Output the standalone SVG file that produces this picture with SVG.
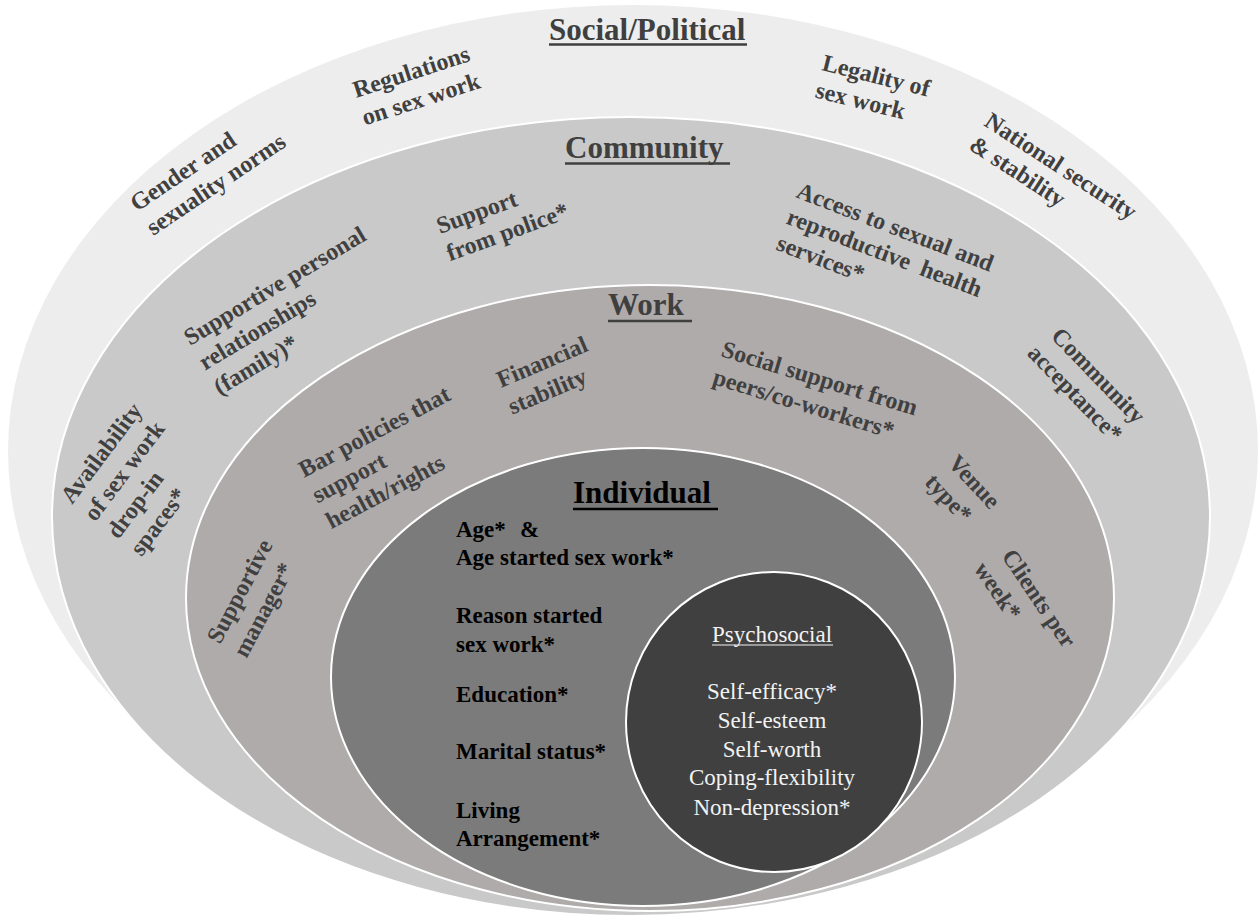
<svg xmlns="http://www.w3.org/2000/svg" width="1260" height="918" viewBox="0 0 1260 918">
  <style>
    .ring { stroke: #ffffff; stroke-width: 2; }
    .lbl { font-family: "Liberation Serif", "Times New Roman", serif; font-weight: bold; font-size: 24px; fill: #404040; }
    .title { font-family: "Liberation Serif", "Times New Roman", serif; font-weight: bold; font-size: 31px; fill: #3f3f3f; }
    .ind { font-family: "Liberation Serif", "Times New Roman", serif; font-weight: bold; font-size: 23px; fill: #000000; }
    .psy { font-family: "Liberation Serif", "Times New Roman", serif; font-size: 23px; fill: #f2f2f2; text-anchor: middle; }
  </style>
  <rect width="1260" height="918" fill="#ffffff"/>

  <!-- Social/Political level -->
  <g id="social-political">
    <ellipse cx="633" cy="451" rx="625" ry="446" fill="#ededed"/>
    <text class="title" x="549" y="40">Social/Political</text>
    <line x1="549" y1="44.5" x2="747" y2="44.5" stroke="#3f3f3f" stroke-width="2.5"/>
    <text class="lbl" transform="translate(137 212) rotate(-34)"><tspan x="0" dy="0">Gender and</tspan><tspan x="0" dy="29">sexuality norms</tspan></text>
    <text class="lbl" transform="translate(356 98) rotate(-18)"><tspan x="0" dy="0">Regulations</tspan><tspan x="0" dy="29">on sex work</tspan></text>
    <text class="lbl" transform="translate(821 70) rotate(14)"><tspan x="0" dy="0">Legality of</tspan><tspan x="0" dy="28">sex work</tspan></text>
    <text class="lbl" transform="translate(983 125) rotate(33)"><tspan x="0" dy="0">National security</tspan><tspan x="0" dy="28">&amp; stability</tspan></text>
  </g>

  <!-- Community level -->
  <g id="community">
    <ellipse class="ring" cx="631" cy="516.5" rx="579" ry="399.5" fill="#c9c9c9"/>
    <text class="title" x="565" y="158">Community</text>
    <line x1="565" y1="163.5" x2="730" y2="163.5" stroke="#3f3f3f" stroke-width="2.5"/>
    <text class="lbl" transform="translate(440 234) rotate(-20)"><tspan x="0" dy="0">Support</tspan><tspan x="0" dy="29">from police*</tspan></text>
    <text class="lbl" transform="translate(795 197) rotate(21)"><tspan x="0" dy="0">Access to sexual and</tspan><tspan x="0" dy="28" word-spacing="6">reproductive health</tspan><tspan x="0" dy="28">services*</tspan></text>
    <text class="lbl" transform="translate(190 346) rotate(-31)"><tspan x="0" dy="0">Supportive personal</tspan><tspan x="0" dy="29">relationships</tspan><tspan x="0" dy="29">(family)*</tspan></text>
    <text class="lbl" transform="translate(72 505) rotate(-53)"><tspan x="0" dy="0">Availability</tspan><tspan x="0" dy="29">of sex work</tspan><tspan x="0" dy="29">drop-in</tspan><tspan x="0" dy="29">spaces*</tspan></text>
    <text class="lbl" transform="translate(1050 337) rotate(46)"><tspan x="0" dy="0">Community</tspan><tspan x="-4" dy="29">acceptance*</tspan></text>
  </g>

  <!-- Work level -->
  <g id="work">
    <ellipse class="ring" cx="650" cy="598" rx="464" ry="313" fill="#afabab"/>
    <text class="title" x="608" y="315">Work</text>
    <line x1="608" y1="321" x2="692" y2="321" stroke="#3f3f3f" stroke-width="2.5"/>
    <text class="lbl" transform="translate(304 478) rotate(-28)"><tspan x="0" dy="0">Bar policies that</tspan><tspan x="0" dy="29">support</tspan><tspan x="0" dy="29">health/rights</tspan></text>
    <text class="lbl" transform="translate(501 388) rotate(-23)"><tspan x="0" dy="0">Financial</tspan><tspan x="0" dy="29">stability</tspan></text>
    <text class="lbl" transform="translate(720 356) rotate(17)"><tspan x="0" dy="0">Social support from</tspan><tspan x="0" dy="29">peers/co-workers*</tspan></text>
    <text class="lbl" transform="translate(947 464) rotate(47)"><tspan x="0" dy="0">Venue</tspan><tspan x="-2" dy="30">type*</tspan></text>
    <text class="lbl" transform="translate(1001 556) rotate(56)"><tspan x="0" dy="0">Clients per</tspan><tspan x="-5" dy="30">week*</tspan></text>
    <text class="lbl" transform="translate(220 645) rotate(-62)"><tspan x="0" dy="0">Supportive</tspan><tspan x="0" dy="30">manager*</tspan></text>
  </g>

  <!-- Individual level -->
  <g id="individual">
    <ellipse class="ring" cx="643" cy="677" rx="312" ry="229" fill="#7b7b7b"/>
    <text class="title" x="573" y="503" style="fill:#000000">Individual</text>
    <line x1="573" y1="509" x2="718" y2="509" stroke="#000000" stroke-width="2.5"/>
    <text class="ind" x="456" y="537">Age*</text>
    <text class="ind" x="520" y="537">&amp;</text>
    <text class="ind" x="456" y="565">Age started sex work*</text>
    <text class="ind" x="456" y="623">Reason started</text>
    <text class="ind" x="456" y="652">sex work*</text>
    <text class="ind" x="456" y="702">Education*</text>
    <text class="ind" x="456" y="759">Marital status*</text>
    <text class="ind" x="456" y="818">Living</text>
    <text class="ind" x="456" y="846">Arrangement*</text>
  </g>

  <!-- Psychosocial core -->
  <g id="psychosocial">
    <ellipse class="ring" cx="774" cy="722" rx="148" ry="150" fill="#404040"/>
    <text class="psy" x="772" y="642">Psychosocial</text>
    <line x1="712" y1="645" x2="833" y2="645" stroke="#f2f2f2" stroke-width="1"/>
    <text class="psy" x="772" y="699">Self-efficacy*</text>
    <text class="psy" x="772" y="728">Self-esteem</text>
    <text class="psy" x="772" y="757">Self-worth</text>
    <text class="psy" x="772" y="785">Coping-flexibility</text>
    <text class="psy" x="772" y="815">Non-depression*</text>
  </g>

  <!-- nested levels only, nothing links them -->
  <g id="connectors"/>
</svg>
